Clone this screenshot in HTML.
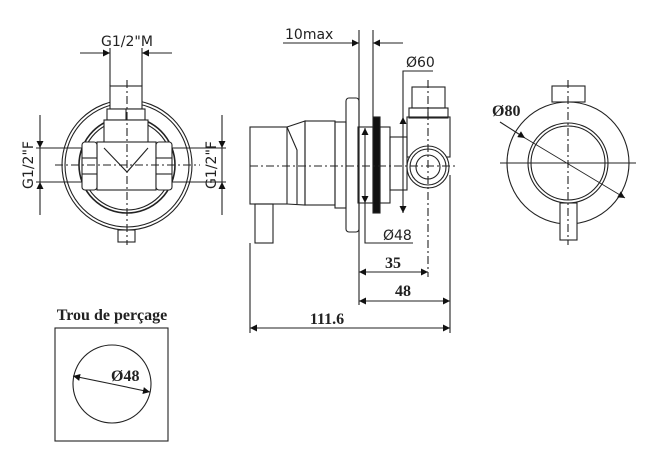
<!DOCTYPE html>
<html><head><meta charset="utf-8"><style>
html,body{margin:0;padding:0;background:#fff;width:653px;height:452px;overflow:hidden}
svg{display:block}
.s{font-family:"DejaVu Sans","Liberation Sans",sans-serif;font-size:14px;fill:#222}
.b{font-family:"Liberation Serif",serif;font-size:16px;font-weight:bold;fill:#222}
</style></head><body>
<svg width="653" height="452" viewBox="0 0 653 452" xmlns="http://www.w3.org/2000/svg">
<defs>
<marker id="a" viewBox="0 0 10 10" refX="10" refY="5" markerWidth="11" markerHeight="7" orient="auto-start-reverse" markerUnits="userSpaceOnUse"><path d="M0,0L10,5L0,10z" fill="#111"/></marker>
</defs>
<g fill="none" stroke="#222" stroke-width="1.1">
<circle cx="127" cy="165" r="65"/>
<circle cx="127" cy="165" r="62"/>
<circle cx="127" cy="165" r="48" stroke-width="1.6"/>
<circle cx="127" cy="165" r="45"/>
<rect x="110" y="86" width="32" height="23" fill="#fff"/>
<rect x="107" y="109" width="38" height="11" fill="#fff"/>
<line x1="126" y1="109" x2="126" y2="120"/>
<rect x="104" y="120" width="44" height="28" fill="#fff"/>
<rect x="97" y="142" width="59" height="48" fill="#fff"/>
<path d="M104,148 L127,172 L148,148"/>
<rect x="82" y="142" width="15" height="48" rx="3" fill="#fff"/>
<rect x="156" y="142" width="16" height="48" rx="3" fill="#fff"/>
<line x1="82" y1="158" x2="97" y2="158"/><line x1="82" y1="174" x2="97" y2="174"/>
<line x1="156" y1="158" x2="172" y2="158"/><line x1="156" y1="174" x2="172" y2="174"/>
<rect x="118" y="230" width="17" height="12" fill="#fff"/>
<line x1="127" y1="80" x2="127" y2="245" stroke-dasharray="8,3,2,3"/>
<line x1="55" y1="165" x2="200" y2="165" stroke-dasharray="8,3,2,3"/>
<line x1="110" y1="48" x2="110" y2="86"/><line x1="142" y1="48" x2="142" y2="86"/>
<line x1="80" y1="53" x2="110" y2="53" marker-end="url(#a)"/>
<line x1="172" y1="53" x2="142" y2="53" marker-end="url(#a)"/>
<line x1="36" y1="148" x2="82" y2="148"/><line x1="36" y1="182" x2="82" y2="182"/>
<line x1="40" y1="115" x2="40" y2="148" marker-end="url(#a)"/>
<line x1="40" y1="215" x2="40" y2="182" marker-end="url(#a)"/>
<line x1="40" y1="148" x2="40" y2="182"/>
<line x1="172" y1="148" x2="226" y2="148"/><line x1="172" y1="182" x2="226" y2="182"/>
<line x1="222" y1="115" x2="222" y2="148" marker-end="url(#a)"/>
<line x1="222" y1="215" x2="222" y2="182" marker-end="url(#a)"/>
<line x1="222" y1="148" x2="222" y2="182"/>

<rect x="250" y="127" width="37" height="77"/>
<path d="M287,127 L305,121 L305,205 L287,204"/>
<path d="M287,127 L297,150 L297,204"/>
<rect x="305" y="121" width="30" height="84"/>
<rect x="335" y="122" width="11" height="86"/>
<rect x="346" y="98" width="13" height="134" rx="3"/>
<rect x="255" y="204" width="18" height="39"/>
<line x1="359" y1="30" x2="359" y2="305"/>
<line x1="373" y1="30" x2="373" y2="117"/>
<rect x="358" y="127" width="15" height="76"/>
<rect x="373" y="117" width="7" height="96" fill="#111"/>
<rect x="380" y="127" width="10" height="76"/>
<rect x="390" y="137" width="17" height="53"/>
<rect x="407" y="117" width="43" height="40"/>
<rect x="412" y="87" width="33" height="21"/>
<rect x="409" y="108" width="39" height="10"/>
<line x1="428" y1="108" x2="428" y2="118"/>
<circle cx="428" cy="167" r="21" fill="#fff"/>
<circle cx="428" cy="167" r="18"/>
<circle cx="428" cy="167" r="12"/>
<line x1="250" y1="166" x2="455" y2="166" stroke-dasharray="8,3,2,3"/>
<line x1="428" y1="80" x2="428" y2="277" stroke-dasharray="8,3,2,3"/>
<line x1="283" y1="43" x2="359" y2="43" marker-end="url(#a)"/>
<line x1="403" y1="43" x2="373" y2="43" marker-end="url(#a)"/>
<line x1="403" y1="165" x2="403" y2="117" marker-end="url(#a)"/>
<line x1="403" y1="165" x2="403" y2="213" marker-end="url(#a)"/>
<polyline points="403,117 403,71 433,71"/>
<line x1="365" y1="165" x2="365" y2="128" marker-end="url(#a)"/>
<line x1="365" y1="165" x2="365" y2="203" marker-end="url(#a)"/>
<polyline points="365,203 365,243 413,243"/>
<line x1="450" y1="175" x2="450" y2="333"/>
<line x1="250" y1="243" x2="250" y2="333"/>
<line x1="359" y1="272" x2="428" y2="272" marker-start="url(#a)" marker-end="url(#a)"/>
<line x1="359" y1="301" x2="450" y2="301" marker-start="url(#a)" marker-end="url(#a)"/>
<line x1="250" y1="328" x2="450" y2="328" marker-start="url(#a)" marker-end="url(#a)"/>

<rect x="552" y="86" width="33" height="16" fill="#fff"/>
<circle cx="568" cy="163" r="61" fill="#fff"/>
<circle cx="568" cy="163" r="40"/>
<circle cx="568" cy="163" r="37"/>
<rect x="560" y="203" width="17" height="37" fill="#fff"/>
<line x1="568" y1="80" x2="568" y2="245" stroke-dasharray="8,3,2,3"/>
<line x1="500" y1="163" x2="636" y2="163"/>
<line x1="500" y1="122" x2="525" y2="138" marker-end="url(#a)"/>
<line x1="525" y1="138" x2="625" y2="198" marker-end="url(#a)" stroke-width="0.8"/>

<rect x="55" y="328" width="113" height="113"/>
<circle cx="112" cy="384" r="39"/>
<line x1="112" y1="384" x2="73" y2="376" marker-end="url(#a)"/>
<line x1="112" y1="384" x2="150" y2="392" marker-end="url(#a)"/>
</g>
<text class="s" x="127" y="46" text-anchor="middle">G1/2"M</text>
<text class="s" transform="translate(33,165) rotate(-90)" text-anchor="middle">G1/2"F</text>
<text class="s" transform="translate(216,165) rotate(-90)" text-anchor="middle">G1/2"F</text>
<text class="s" x="285" y="39">10max</text>
<text class="s" x="406" y="67">Ø60</text>
<text class="s" x="383" y="240">Ø48</text>
<text class="b" x="393" y="268" text-anchor="middle">35</text>
<text class="b" x="403" y="296" text-anchor="middle">48</text>
<text class="b" x="327" y="324" text-anchor="middle">111.6</text>
<text class="b" x="492" y="116">Ø80</text>
<text class="b" x="112" y="320" text-anchor="middle">Trou de perçage</text>
<text class="b" x="111" y="381">Ø48</text>
</svg>
</body></html>
